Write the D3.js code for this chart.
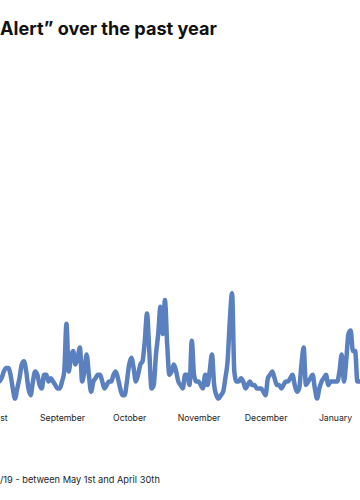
<!DOCTYPE html>
<html>
<head>
<meta charset="utf-8">
<script src="https://cdn.jsdelivr.net/npm/d3@7"></script>
<style>
  html, body { margin: 0; padding: 0; background: #fff; overflow: hidden; }
  svg { display: block; }
</style>
</head>
<body>
<svg id="chart"></svg>
<script>
// daily search interest, starting 2018-08-03 (only the visible window of the chart)
var startDay = "2018-08-03";
var interest = [
  6, 6, 7, 9, 10, 10, 8, 4, 1, 4, 7, 11, 12, 9, 4, 2, 6, 9, 8, 5,
  4, 8, 8, 6, 7, 6, 5, 4, 4, 6, 9, 23, 9, 13, 15, 11, 13, 16, 6, 9,
  14, 8, 3, 6, 7, 8, 8, 6, 4, 5, 6, 6, 8, 9, 7, 4, 2, 2, 6, 11,
  13, 10, 6, 8, 11, 12, 18, 26, 15, 4, 5, 14, 20, 28, 20, 30, 17, 8, 9, 11,
  9, 6, 5, 4, 8, 8, 5, 18, 8, 6, 6, 5, 4, 8, 5, 9, 14, 5, 2, 1,
  2, 3, 7, 12, 24, 32, 9, 6, 6, 7, 6, 4, 5, 6, 5, 5, 4, 4, 4, 3,
  2, 7, 8, 9, 7, 5, 5, 4, 5, 6, 6, 7, 8, 5, 3, 4, 11, 16, 5, 6,
  7, 8, 4, 1, 4, 6, 7, 8, 5, 6, 6, 6, 6, 9, 14, 6, 12, 20, 21, 15,
  15, 6, 6, 6
];

var monthStarts = ["2018-08-01", "2018-09-01", "2018-10-01", "2018-11-01", "2018-12-01", "2019-01-01"];
var monthLabels = ["August", "September", "October", "November", "December", "January"];

var titleText = "Alert\u201D over the past year";
var noteText = "/19 - between May 1st and April 30th";

var dimensions = {
    width: 360,
    height: 500
}

var font = "Inter, 'Open Sans', sans-serif";

var parse = d3.timeParse("%Y-%m-%d");
var day0 = parse(startDay);
var data = interest.map(function(v, i){
    return {date: d3.timeDay.offset(day0, i), value: v}
})
var ticks = monthStarts.map(parse);

var svg = d3.select("#chart")
            .attr("width", dimensions.width)
            .attr("height", dimensions.height)

// shrink/grow a text until it is about as wide as in the picture
function fitWidth(sel, target){
    var w = sel.node().getComputedTextLength();
    var fs = +sel.attr("font-size");
    sel.attr("font-size", (fs * target / w).toFixed(2));
}

// the chart is wider than the window, only Aug - mid Jan shows
var xScale = d3.scaleTime()
               .domain([parse("2018-09-01"), parse("2019-01-01")])
               .range([62, 335])

var yScale = d3.scaleLinear()
               .domain([0, 100])
               .range([402, 62])

var title = svg.append("text")
   .attr("x", 0)
   .attr("y", 35)
   .attr("font-family", font)
   .attr("font-weight", 700)
   .attr("font-size", 17)
   .attr("fill", "#111")
   .text(titleText)
fitWidth(title, 217)

var line = d3.line()
             .x(d => xScale(d.date))
             .y(d => yScale(d.value))
             .curve(d3.curveMonotoneX)

svg.append("path")
   .datum(data)
   .attr("fill", "none")
   .attr("stroke", "#5a80bf")
   .attr("stroke-width", 4.5)
   .attr("stroke-linejoin", "round")
   .attr("stroke-linecap", "round")
   .attr("d", line)

var xAxisgen = d3.axisBottom(xScale)
                 .tickValues(ticks)
                 .tickSize(0)
                 .tickPadding(0)
                 .tickFormat((d, i) => monthLabels[i])

var xAxis = svg.append("g")
               .attr("transform", "translate(0,415)")
               .call(xAxisgen)

xAxis.select(".domain").remove()
xAxis.selectAll("text")
     .attr("font-family", font)
     .attr("font-size", 10)
     .attr("fill", "#222")

// size from "September"
var sept = xAxis.selectAll("text").filter((d, i) => i == 1)
var fsAxis = 10 * 45 / sept.node().getComputedTextLength()
xAxis.selectAll("text").attr("font-size", fsAxis.toFixed(2))

var note = svg.append("text")
   .attr("x", 0)
   .attr("y", 483)
   .attr("font-family", font)
   .attr("font-size", 10)
   .attr("fill", "#222")
   .text(noteText)
fitWidth(note, 160)
</script>
</body>
</html>
